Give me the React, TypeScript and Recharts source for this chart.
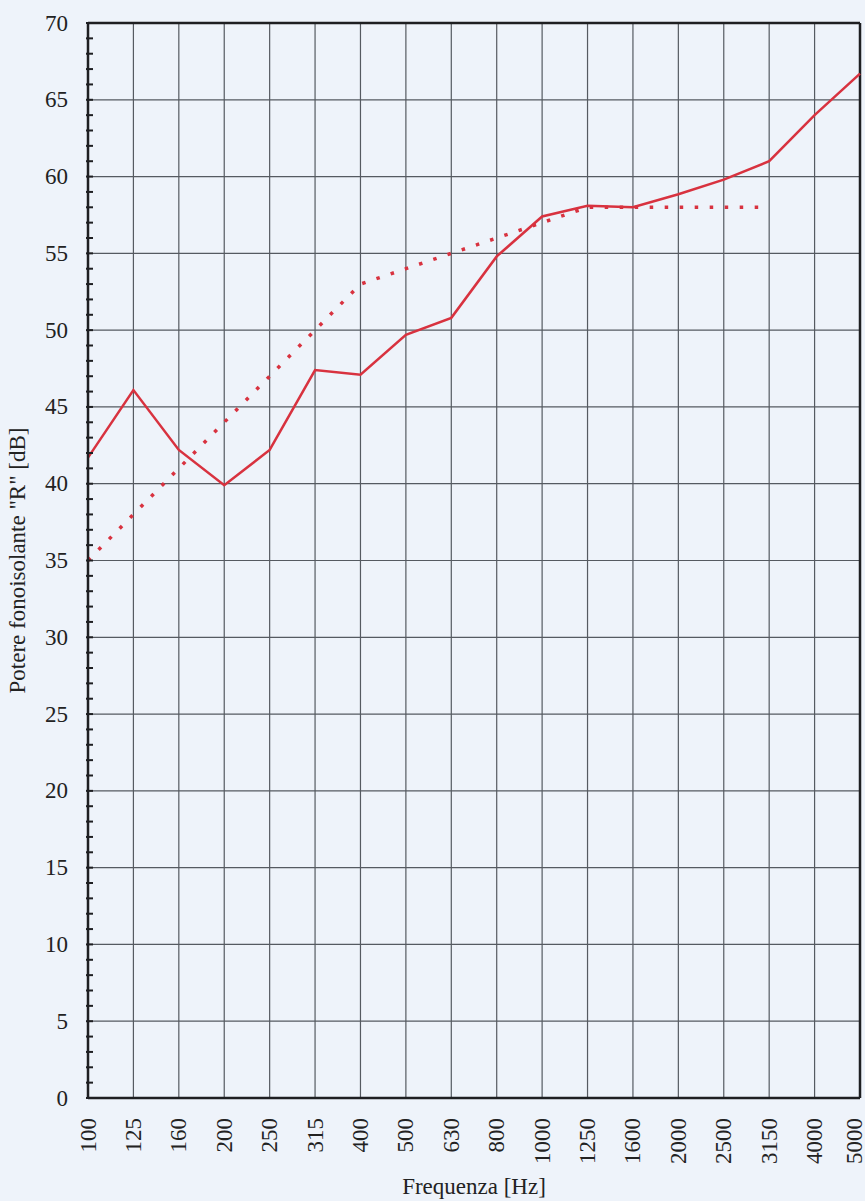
import { LineChart, Line, XAxis, YAxis, CartesianGrid, ReferenceLine } from 'recharts';

// Frequenze di terzo d'ottava [Hz]
const FREQUENCIES = ['100', '125', '160', '200', '250', '315', '400', '500', '630', '800', '1000', '1250', '1600', '2000', '2500', '3150', '4000', '5000'];

// Potere fonoisolante misurato [dB]
const MEASURED_R = [41.7, 46.1, 42.2, 39.9, 42.2, 47.4, 47.1, 49.7, 50.8, 54.8, 57.4, 58.1, 58.0, 58.85, 59.8, 61.0, 64.0, 66.7];

// Curva di riferimento traslata (fino a 3150 Hz)
const REFERENCE_R = [35, 38, 41, 44, 47, 50, 53, 54, 55, 56, 57, 58, 58, 58, 58, 58, null, null];

const Y_MAJOR_TICKS = [0, 5, 10, 15, 20, 25, 30, 35, 40, 45, 50, 55, 60, 65, 70];
const Y_MINOR_TICKS = Array.from({ length: 71 }, (_, i) => i);

const BG = '#eef3fa';
const RED = '#d8323f';
const GRID = '#555a61';
const AXIS = '#1e1f22';
const FONT = '"Liberation Serif", "Times New Roman", serif';
const FONT_SIZE = 23;

const data = FREQUENCIES.map((freq, i) => ({
  freq,
  measured: MEASURED_R[i],
  reference: REFERENCE_R[i],
}));

const YTick = ({ x, y, payload }: any) => {
  const v = payload.value as number;
  const major = v % 5 === 0;
  return (
    <g>
      <line x1={x} x2={x + 7} y1={y} y2={y} stroke={AXIS} strokeWidth={2} />
      {major && (
        <text x={x - 18} y={y} textAnchor="end" dominantBaseline="central" fill="#222" fontSize={FONT_SIZE} fontFamily={FONT}>
          {v}
        </text>
      )}
    </g>
  );
};

const XTick = ({ x, y, payload, index }: any) => {
  // l'ultima etichetta è a filo del bordo destro: la sposto un poco
  const tx = index === FREQUENCIES.length - 1 ? x - 6 : x;
  return (
    <text
      transform={`translate(${tx}, ${y + 18}) rotate(-90)`}
      textAnchor="end"
      dominantBaseline="central"
      fill="#222"
      fontSize={FONT_SIZE}
      fontFamily={FONT}
    >
      {payload.value}
    </text>
  );
};

export default function App() {
  return (
    <div style={{ position: 'absolute', left: 0, top: 0, width: 865, height: 1201, background: BG }}>
      <LineChart width={865} height={1201} data={data} margin={{ top: 23, right: 5, bottom: 0, left: 0 }}>
        <CartesianGrid horizontal={false} stroke={GRID} strokeWidth={1.2} />
        {Y_MAJOR_TICKS.filter((v) => v > 0 && v < 70).map((v) => (
          <ReferenceLine key={v} y={v} stroke={GRID} strokeWidth={1.2} />
        ))}
        <ReferenceLine y={70} stroke={AXIS} strokeWidth={2.5} />
        <ReferenceLine x="5000" stroke={AXIS} strokeWidth={2.5} />
        <XAxis
          dataKey="freq"
          interval={0}
          height={103}
          tickSize={0}
          tickLine={false}
          axisLine={{ stroke: AXIS, strokeWidth: 2.5 }}
          tick={<XTick />}
          label={(props: any) => {
            const vb = props.viewBox;
            return (
              <text x={vb.x + vb.width / 2} y={vb.y + vb.height - 7} textAnchor="middle" fill="#222" fontSize={FONT_SIZE} fontFamily={FONT}>
                Frequenza [Hz]
              </text>
            );
          }}
        />
        <YAxis
          type="number"
          domain={[0, 70]}
          ticks={Y_MINOR_TICKS}
          interval={0}
          width={88}
          tickSize={0}
          tickLine={false}
          axisLine={{ stroke: AXIS, strokeWidth: 2.5 }}
          tick={<YTick />}
          label={(props: any) => {
            const vb = props.viewBox;
            const cx = vb.x + 17;
            const cy = vb.y + vb.height / 2;
            return (
              <text
                transform={`translate(${cx}, ${cy}) rotate(-90)`}
                textAnchor="middle"
                dominantBaseline="central"
                fill="#222"
                fontSize={FONT_SIZE}
                fontFamily={FONT}
              >
                Potere fonoisolante "R" [dB]
              </text>
            );
          }}
        />
        <Line
          type="linear"
          dataKey="reference"
          stroke={RED}
          strokeWidth={3.5}
          strokeDasharray="3.5 11.5"
          dot={false}
          activeDot={false}
          isAnimationActive={false}
        />
        <Line
          type="linear"
          dataKey="measured"
          stroke={RED}
          strokeWidth={2.5}
          dot={false}
          activeDot={false}
          isAnimationActive={false}
        />
      </LineChart>
    </div>
  );
}
